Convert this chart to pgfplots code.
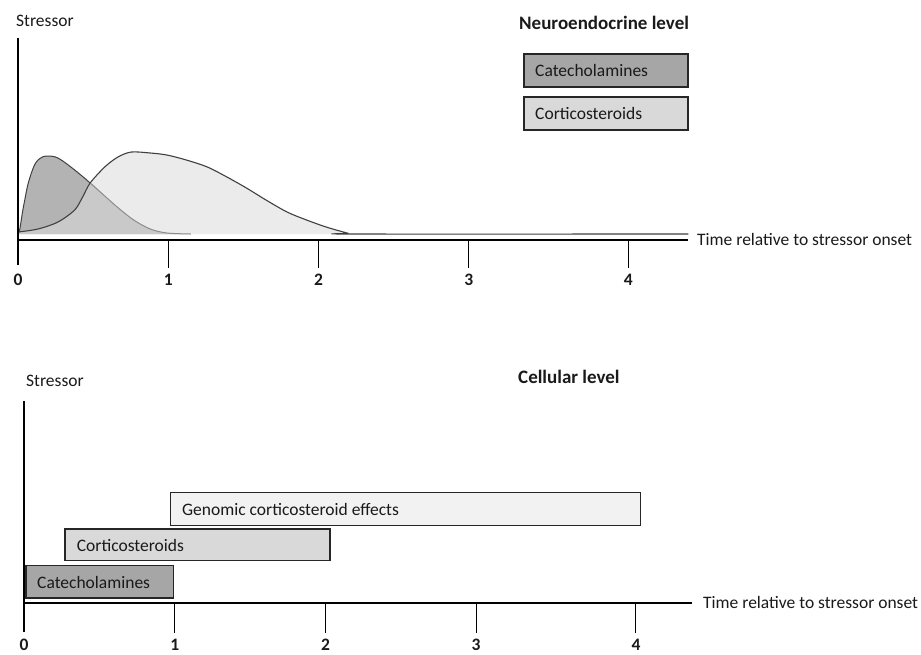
\documentclass[border=0pt]{standalone}
\usepackage{pgfplots}
\pgfplotsset{compat=1.18}
\usepackage{fontspec}
\setmainfont{Carlito}
\definecolor{catdark}{HTML}{B3B3B3}
\definecolor{cortlight}{HTML}{EBEBEB}
\definecolor{overlap}{HTML}{C9C9C9}
\definecolor{boxcat}{HTML}{A6A6A6}
\definecolor{boxcort}{HTML}{D9D9D9}
\definecolor{boxgen}{HTML}{F2F2F2}
\definecolor{txt}{HTML}{1A1A1A}
\pgfplotstableread{
x y
0 1
0.011 4
0.03 22
0.045 34
0.065 49
0.089 61
0.11 69
0.133 74
0.17 77.5
0.21 78
0.25 77
0.288 74
0.33 69.5
0.377 64
0.43 57.5
0.48 51
0.57 39
0.66 27
0.77 14
0.88 5
0.99 1
1.15 0
}\catdata
\pgfplotstableread{
x y
0 1
0.011 4
0.03 22
0.045 34
0.065 49
0.089 61
0.11 69
0.133 74
0.17 77.5
0.21 78
0.25 77
0.288 74
0.33 69.5
0.377 64
0.43 57.5
0.48 51
}\catleft
\pgfplotstableread{
x y
0.48 51
0.57 39
0.66 27
0.77 14
0.88 5
0.99 1
1.15 0
}\catright
\pgfplotstableread{
x y
0 2
0.133 5
0.266 12
0.377 24
0.43 37
0.48 51
0.577 67
0.665 77
0.754 82
0.88 81
0.99 79
1.12 74
1.26 67
1.39 57
1.52 46
1.65 34
1.79 22
1.92 14
2.05 7
2.19 1
2.23 0
4.46 0
}\cortdata
\pgfplotstableread{
x y
0 2
0.133 5
0.266 12
0.377 24
0.43 37
0.48 51
0.57 39
0.66 27
0.77 14
0.88 5
0.99 1
1.15 0
}\mindata
\begin{document}
\fontsize{17.5}{21}\selectfont
\begin{tikzpicture}[font=\fontsize{17.5}{21}\selectfont, text=txt]
\path[use as bounding box] (0pt,0pt) rectangle (921pt,-654pt);
% ---------- top panel ----------
\begin{axis}[
  at={(18pt,-240pt)}, anchor=south west,
  scale only axis, width=670.3pt, height=202pt,
  xmin=0, xmax=4.46, ymin=-6, ymax=196,
  enlargelimits=false, clip=false,
  axis x line*=bottom, axis y line=none,
  x axis line style={black, line width=1.1pt},
  xtick={0,1,2,3,4.06}, xticklabels={\textbf{0},\textbf{1},\textbf{2},\textbf{3},\textbf{4}},
  major tick length=0pt,
  xtick style={draw=none},
  xticklabel style={font=\fontsize{17.5}{21}\selectfont\bfseries, text=txt, anchor=center, yshift=-40pt},
  ytick=\empty,
]
\addplot[draw=none, fill=catdark, smooth, tension=0.5] table {\catdata} \closedcycle;
\addplot[draw=none, fill=cortlight, smooth, tension=0.5] table {\cortdata} \closedcycle;
\addplot[draw=none, fill=overlap, smooth, tension=0.5] table {\mindata} \closedcycle;
\addplot[draw=black!75, line width=1pt, smooth, tension=0.5] table {\catleft};
\addplot[draw=black!45, line width=1pt, smooth, tension=0.5] table {\catright};
\addplot[draw=black!75, line width=1.1pt, smooth, tension=0.5] table {\cortdata};
% axis decorations: vertical stressor line and tick marks
\addplot[black, line width=1.1pt, forget plot] coordinates {(0,-31) (0,196)};
\addplot[black, line width=1.1pt, forget plot] coordinates {(1,-6) (1,-34)};
\addplot[black, line width=1.1pt, forget plot] coordinates {(2,-6) (2,-34)};
\addplot[black, line width=1.1pt, forget plot] coordinates {(3,-6) (3,-34)};
\addplot[black, line width=1.1pt, forget plot] coordinates {(4.06,-6) (4.06,-34)};
\end{axis}
\node[anchor=west, inner sep=0pt] at (16pt,-21pt) {Stressor};
\node[anchor=west, inner sep=0pt] at (519pt,-23pt) {\fontsize{19}{22}\selectfont\bfseries Neuroendocrine level};
\draw[black!85, line width=1.1pt, fill=boxcat] (524pt,-54pt) rectangle (688pt,-87pt);
\node[anchor=west, inner sep=0pt] at (535pt,-70.5pt) {Catecholamines};
\draw[black!85, line width=1.1pt, fill=boxcort] (524pt,-97pt) rectangle (688pt,-130pt);
\node[anchor=west, inner sep=0pt] at (535pt,-113.5pt) {Corticosteroids};
\node[anchor=west, inner sep=0pt] at (697pt,-239pt) {Time relative to stressor onset};
% ---------- bottom panel ----------
\begin{axis}[
  at={(24pt,-603pt)}, anchor=south west,
  scale only axis, width=667.7pt, height=202pt,
  xmin=0, xmax=4.43, ymin=0, ymax=202,
  enlargelimits=false, clip=false,
  axis x line*=bottom, axis y line=none,
  x axis line style={black, line width=1.1pt},
  xtick={0,1,2,3,4.06}, xticklabels={\textbf{0},\textbf{1},\textbf{2},\textbf{3},\textbf{4}},
  major tick length=0pt,
  xtick style={draw=none},
  xticklabel style={font=\fontsize{17.5}{21}\selectfont\bfseries, text=txt, anchor=center, yshift=-42pt},
  ytick=\empty,
]
\addplot[draw=black!85, line width=1.1pt, fill=boxcat] coordinates {(0.013,5) (0.993,5) (0.993,37.3) (0.013,37.3)} --cycle;
\addplot[draw=black!85, line width=1.1pt, fill=boxcort] coordinates {(0.272,42.3) (2.03,42.3) (2.03,74) (0.272,74)} --cycle;
\addplot[draw=black!85, line width=1.1pt, fill=boxgen] coordinates {(0.973,77.7) (4.09,77.7) (4.09,110.7) (0.973,110.7)} --cycle;
\addplot[black, line width=1.1pt, forget plot] coordinates {(0,-29) (0,202)};
\addplot[black, line width=1.1pt, forget plot] coordinates {(1,0) (1,-30)};
\addplot[black, line width=1.1pt, forget plot] coordinates {(2,0) (2,-30)};
\addplot[black, line width=1.1pt, forget plot] coordinates {(3,0) (3,-30)};
\addplot[black, line width=1.1pt, forget plot] coordinates {(4.06,0) (4.06,-30)};
\end{axis}
\node[anchor=west, inner sep=0pt] at (26pt,-381pt) {Stressor};
\node[anchor=west, inner sep=0pt] at (518pt,-377pt) {\fontsize{19}{22}\selectfont\bfseries Cellular level};
\node[anchor=west, inner sep=0pt] at (37pt,-582pt) {Catecholamines};
\node[anchor=west, inner sep=0pt] at (76.7pt,-545pt) {Corticosteroids};
\node[anchor=west, inner sep=0pt] at (182pt,-509pt) {Genomic corticosteroid effects};
\node[anchor=west, inner sep=0pt] at (703pt,-602pt) {Time relative to stressor onset};
\end{tikzpicture}
\end{document}
